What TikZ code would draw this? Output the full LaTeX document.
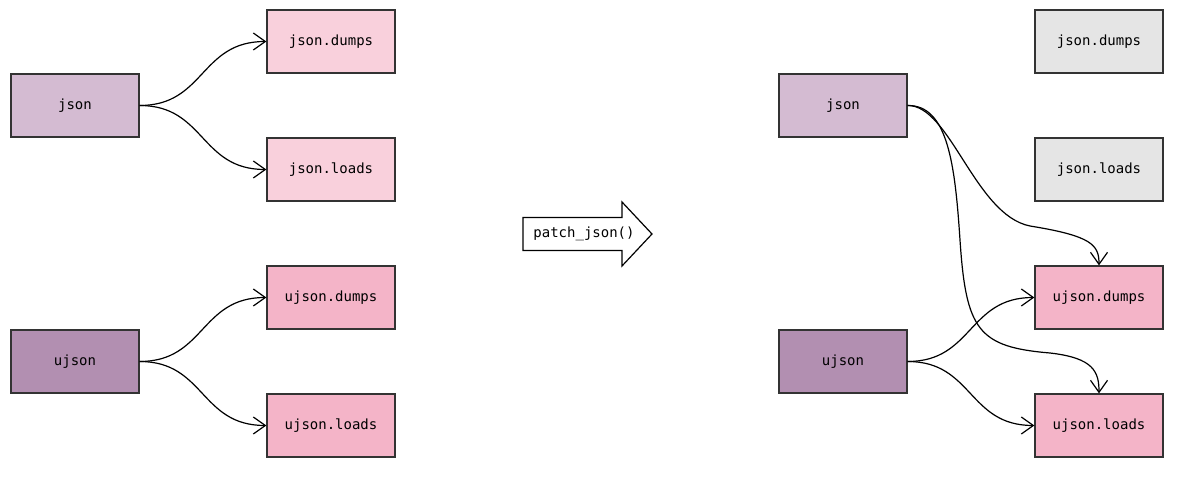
\documentclass[tikz,border=0pt]{standalone}
\usepackage{fontspec}
\setmonofont{DejaVu Sans Mono}
\usetikzlibrary{arrows.meta}
\definecolor{jsonc}{HTML}{D4BBD2}
\definecolor{ujsonc}{HTML}{B28FB1}
\definecolor{jfun}{HTML}{F9D0DC}
\definecolor{ufun}{HTML}{F4B4C8}
\definecolor{grayf}{HTML}{E5E5E5}
\definecolor{edgec}{HTML}{333333}
\begin{document}
\begin{tikzpicture}[x=1pt,y=-1pt,
  lbl/.style={font=\ttfamily\fontsize{14}{16}\selectfont},
  box/.style={lbl,draw=edgec,line width=1.3pt,minimum width=128pt,minimum height=63pt,inner sep=0pt},
  conn/.style={line width=1.2pt,-{Straight Barb[length=12pt,width=17pt,line width=1.2pt]}}]
\useasboundingbox (0,0) rectangle (1187,478);
% left
\node[box,fill=jsonc] (lj) at (75,105.5) {json};
\node[box,fill=jfun] (ljd) at (331,41.5) {json.dumps};
\node[box,fill=jfun] (ljl) at (331,169.5) {json.loads};
\node[box,fill=ufun] (lud) at (331,297.5) {ujson.dumps};
\node[box,fill=ufun] (lul) at (331,425.5) {ujson.loads};
\node[box,fill=ujsonc] (lu) at (75,361.5) {ujson};
\draw[conn] (lj.east) .. controls (205,105.5) and (200,41.5) .. (ljd.west);
\draw[conn] (lj.east) .. controls (205,105.5) and (200,169.5) .. (ljl.west);
\draw[conn] (lu.east) .. controls (205,361.5) and (200,297.5) .. (lud.west);
\draw[conn] (lu.east) .. controls (205,361.5) and (200,425.5) .. (lul.west);
% arrow
\draw[line width=1.2pt,fill=white,line join=miter] (523,217.5) -- (622,217.5) -- (622,202) -- (652,234) -- (622,266) -- (622,250.5) -- (523,250.5) -- cycle;
\node[lbl,inner sep=0pt] (patch) at (584,234) {patch\_json()};
% right
\node[box,fill=jsonc] (rj) at (843,105.5) {json};
\node[box,fill=grayf] (rjd) at (1099,41.5) {json.dumps};
\node[box,fill=grayf] (rjl) at (1099,169.5) {json.loads};
\node[box,fill=ufun] (rud) at (1099,297.5) {ujson.dumps};
\node[box,fill=ufun] (rul) at (1099,425.5) {ujson.loads};
\node[box,fill=ujsonc] (ru) at (843,361.5) {ujson};
\draw[conn] (ru.east) .. controls (973,361.5) and (968,297.5) .. (rud.west);
\draw[conn] (ru.east) .. controls (973,361.5) and (968,425.5) .. (rul.west);
\draw[conn] (rj.east) .. controls (950,105) and (975,215) .. (1030,226) .. controls (1092,236) and (1099,245) .. (rud.north);
\draw[conn] (rj.east) .. controls (948,105) and (955,165) .. (960,240) .. controls (966,330) and (978,347) .. (1050,353) .. controls (1094,358) and (1099,372) .. (rul.north);
\end{tikzpicture}
\end{document}
